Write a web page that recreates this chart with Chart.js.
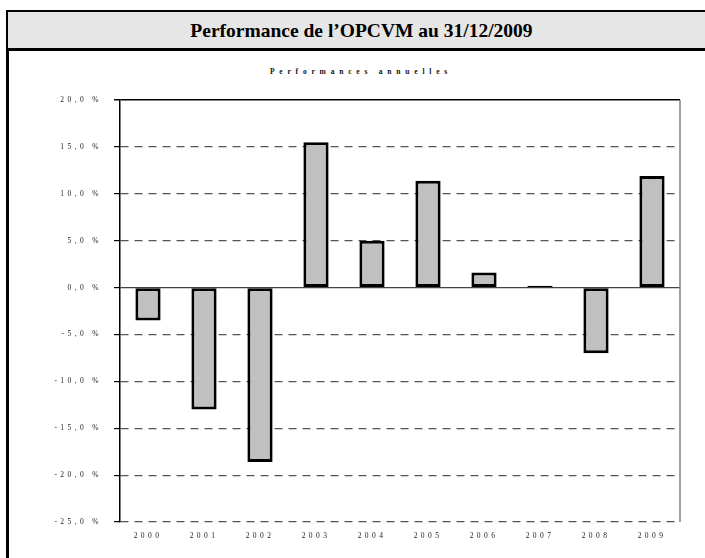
<!DOCTYPE html>
<html>
<head>
<meta charset="utf-8">
<script src="https://cdn.jsdelivr.net/npm/chart.js@4.4.1/dist/chart.umd.min.js"></script>
<style>
  body { margin: 0; width: 705px; height: 558px; overflow: hidden; background: #fff; position: relative; font-family: "Liberation Serif", "DejaVu Serif", serif; }
  .header { position: absolute; left: 6px; top: 10px; width: 720px; height: 36px; background: #e6e6e6; border-top: 2px solid #000; border-left: 2px solid #000; border-bottom: 3px solid #000; }
  .header h1 { margin: 0; font-size: 19.5px; font-weight: bold; text-align: center; line-height: 37px; width: 707px; }
  .leftline { position: absolute; left: 6px; top: 48px; width: 3px; height: 520px; background: #000; }
  .subtitle { position: absolute; left: 13px; width: 696px; top: 67px; text-align: center; font-size: 7.5px; font-weight: bold; letter-spacing: 4.8px; color: #111; }
  .wrap { position: absolute; left: 9px; top: 51px; width: 696px; height: 507px; }
</style>
</head>
<body>
<div class="header"><h1>Performance de l’OPCVM au 31/12/2009</h1></div>
<div class="leftline"></div>
<div class="subtitle">Performances annuelles</div>
<div class="wrap"><canvas id="chart"></canvas></div>
<script>
const years = ["2000", "2001", "2002", "2003", "2004", "2005", "2006", "2007", "2008", "2009"];
const performance = [-3.5, -13.0, -18.6, 15.5, 5.0, 11.4, 1.6, 0.2, -7.0, 11.9];
const yTicks = [20, 15, 10, 5, 0, -5, -10, -15, -20, -25];

// letter spacing for tick labels (spaced-out Excel look)
const spacingPlugin = {
  id: "spacing",
  beforeDraw(chart) { chart.ctx.letterSpacing = "3.4px"; },
  afterDatasetsDraw(chart) { chart.ctx.letterSpacing = "4.8px"; },
  afterDraw(chart) {
    const { ctx, chartArea } = chart;
    ctx.save();
    ctx.letterSpacing = "0px";
    ctx.strokeStyle = "#808080";
    ctx.lineWidth = 1.5;
    ctx.beginPath();
    ctx.moveTo(chartArea.right, chartArea.top);
    ctx.lineTo(chartArea.right, chartArea.bottom);
    ctx.stroke();
    ctx.restore();
  }
};

const solidAt = (c) => c.tick && (c.tick.value === 0 || c.tick.value === 20);

new Chart(document.getElementById("chart"), {
  type: "bar",
  data: {
    labels: years,
    datasets: [
      {
        label: "Performances annuelles",
        data: performance,
        backgroundColor: "#c0c0c0",
        borderColor: "#000",
        borderWidth: 3,
        borderSkipped: false,
        barPercentage: 0.45,
        categoryPercentage: 1,
      },
    ],
  },
  options: {
    responsive: true,
    maintainAspectRatio: false,
    animation: false,
    layout: { padding: { left: 0, right: 25, top: 49, bottom: 0 } },
    plugins: {
      legend: { display: false },
      title: { display: false },
      tooltip: { enabled: false },
    },
    scales: {
      x: {
        z: 1,
        grid: { display: false, drawTicks: false },
        border: { display: false },
        ticks: {
          autoSkip: false,
          maxRotation: 0,
          padding: 10,
          color: "#222",
          font: { family: "Liberation Serif", size: 7.5 },
        },
        afterFit(scale) { scale.height = 36; },
      },
      y: {
        min: -25,
        max: 20,
        afterBuildTicks(scale) { scale.ticks = yTicks.map((v) => ({ value: v })); },
        grid: {
          color: (c) => (c.tick && c.tick.value === 20 ? "#000" : c.tick && c.tick.value === 0 ? "#444" : "#555"),
          lineWidth: (c) => (c.tick && c.tick.value === 20 ? 1.5 : 1.2),
          tickLength: 6,
          tickColor: "#000",
          tickBorderDash: [],
        },
        border: {
          display: true,
          color: "#000",
          width: 1.5,
          dash: (c) => (solidAt(c) ? [] : [8, 6]),
        },
        ticks: {
          padding: 12,
          color: "#222",
          font: { family: "Liberation Serif", size: 7.5 },
          callback: (v) => v.toFixed(1).replace(".", ",") + " %",
        },
        afterFit(scale) { scale.width = 111; },
      },
    },
  },
  plugins: [spacingPlugin],
});
</script>
</body>
</html>
